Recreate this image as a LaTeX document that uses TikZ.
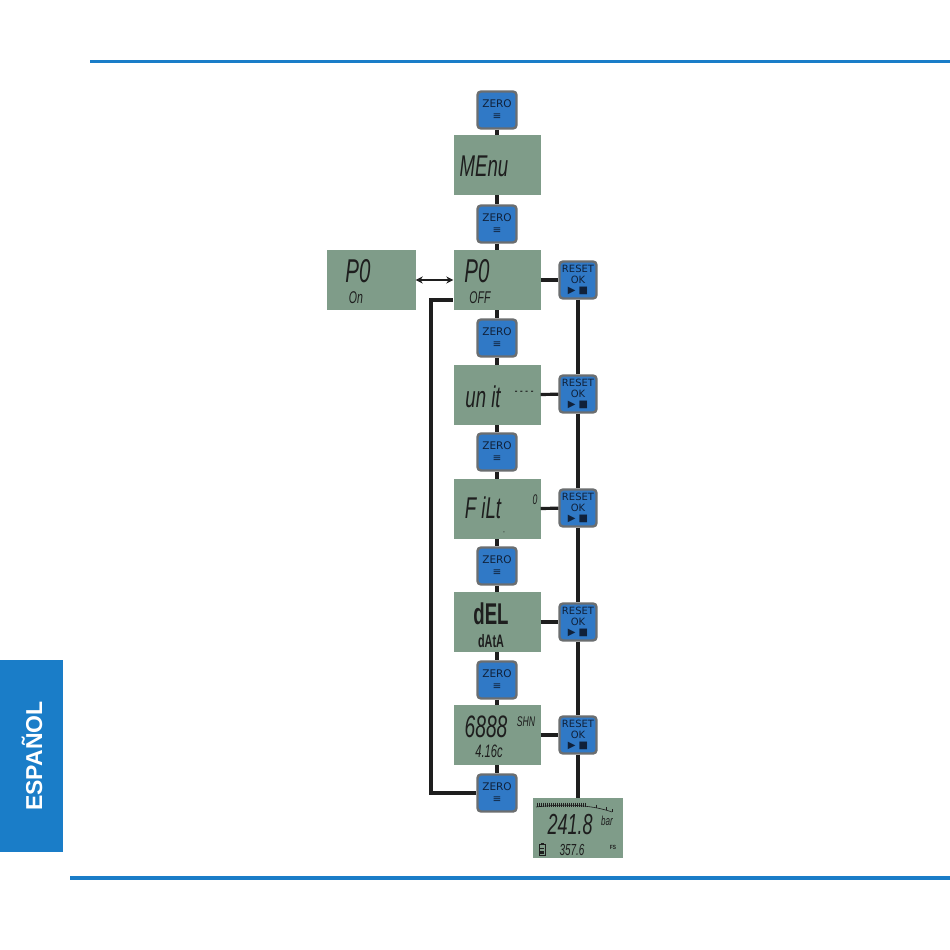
\documentclass[tikz,border=0pt]{standalone}
\usepackage{fontspec}
\setmainfont{Liberation Sans}
\newfontfamily\dvs{DejaVu Sans}
\usetikzlibrary{arrows.meta}
\definecolor{hdrblue}{HTML}{1A7DC8}
\definecolor{btnblue}{HTML}{3079C6}
\definecolor{btngray}{HTML}{6B6E70}
\definecolor{lcdgreen}{HTML}{7F9C89}
\definecolor{ink}{HTML}{1E1E1E}
\definecolor{btntext}{HTML}{10213A}
\newcommand{\lcdtxt}[2]{\scalebox{0.62}[1]{\fontsize{#1}{#1}\selectfont\itshape #2}}
\tikzset{
  zerobtn/.style={rectangle, rounded corners=3.5pt, fill=btnblue, draw=btngray, line width=2.4pt,
    minimum width=39pt, minimum height=37pt, inner sep=0pt, align=center, text=btntext,
    font=\dvs\fontsize{10.5}{11}\selectfont},
  resetbtn/.style={zerobtn, minimum width=37pt, minimum height=37pt,
    font=\dvs\fontsize{10}{10.5}\selectfont},
  lcd/.style={rectangle, fill=lcdgreen, minimum width=87pt, minimum height=60pt, inner sep=0pt},
  lbl/.style={inner sep=0pt, text=ink},
  conn/.style={draw=ink, line width=3.2pt},
}
\begin{document}
\begin{tikzpicture}[x=1pt,y=-1pt]
\path[use as bounding box, fill=white] (0,0) rectangle (950,950);
% header / footer
\fill[hdrblue] (90,60) rectangle (950,63);
\fill[hdrblue] (70,876) rectangle (950,880);
\fill[hdrblue] (0,660) rectangle (63,852);
\node[rotate=90, text=white, font=\bfseries\fontsize{23}{23}\selectfont] (tab) at (32,756) {ESPAÑOL};

% ZERO buttons
\foreach \n/\y in {z1/110,z2/224,z3/338,z4/452,z5/566,z6/680,z7/793}
  \node[zerobtn] (\n) at (497,\y) {ZERO\\[1pt]≡};
% RESET buttons
\foreach \n/\y in {r1/280,r2/394,r3/508,r4/622,r5/735}
  \node[resetbtn] (\n) at (578,\y) {RESET\\OK\\▶ ■};

% LCD displays
\node[lcd] (menu) at (497,165) {};
\node[lcd] (poff) at (497,280) {};
\node[lcd, minimum width=89pt] (pon) at (371,280) {};
\node[lcd] (unit) at (497,395) {};
\node[lcd] (filt) at (497,509) {};
\node[lcd] (del) at (497,622) {};
\node[lcd] (ver) at (497,735) {};
\node[lcd, minimum width=90pt] (live) at (578,828) {};

% LCD texts
\node[lbl] (menut) at (484,166) {\lcdtxt{30}{MEnu}};
\node[lbl] (pofft1) at (477,271) {\lcdtxt{33}{P0}};
\node[lbl] (pofft2) at (480,298) {\lcdtxt{17}{OFF}};
\node[lbl] (pont1) at (358,271) {\lcdtxt{33}{P0}};
\node[lbl] (pont2) at (356,298) {\lcdtxt{17}{On}};
\node[lbl] (unitt) at (483,397) {\lcdtxt{30}{un it}};
\node[lbl] (unitd) at (524,393) {\lcdtxt{14}{- - - -}};
\node[lbl] (filtt) at (483,508) {\lcdtxt{30}{F iLt}};
\node[lbl] (filt0) at (535,500) {\lcdtxt{14}{0}};
\node[lbl] (filtm) at (504,533) {\lcdtxt{8}{-}};
\node[lbl] (delt1) at (491,614) {\scalebox{0.62}[1]{\fontsize{30}{30}\selectfont\bfseries dEL}};
\node[lbl] (delt2) at (491,641) {\scalebox{0.6}[1]{\fontsize{18}{18}\selectfont\bfseries dAtA}};
\node[lbl] (vert1) at (486,727) {\lcdtxt{31}{6888}};
\node[lbl] (vert2) at (526,722) {\lcdtxt{14}{SHN}};
\node[lbl] (vert3) at (489,751) {\lcdtxt{18}{4.16c}};
\node[lbl] (livet1) at (570,825) {\lcdtxt{29}{241.8}};
\node[lbl] (livet2) at (607,821) {\lcdtxt{13}{bar}};
\node[lbl] (livet3) at (572,850) {\lcdtxt{16}{357.6}};
\node[lbl] (livet4) at (613,847) {\scalebox{0.8}[1]{\fontsize{6}{6}\selectfont\bfseries FS}};
% battery icon
\draw[ink, line width=0.6pt] (539,844) rectangle (545,855);
\fill[ink] (540.5,842.5) rectangle (543.5,844);
\fill[ink] (540,848) rectangle (544,849);
\fill[ink] (540,851) rectangle (544,854);
% bar graph scale
\draw[ink, line width=0.6pt] (536,807) .. controls (570,803) and (595,806) .. (612,812);
\foreach \i in {0,...,24} {
  \pgfmathsetmacro{\xx}{537+2*\i}
  \draw[ink, line width=0.6pt] (\xx,802.5) -- (\xx,806.5);
}
\foreach \xx/\yy in {596/807.5,606/810,612/812}
  \draw[ink, line width=0.6pt] (\xx,\yy-3) -- (\xx,\yy);

% vertical chain
\draw[conn] (z1) -- (menu);
\draw[conn] (menu) -- (z2);
\draw[conn] (z2) -- (poff);
\draw[conn] (poff) -- (z3);
\draw[conn] (z3) -- (unit);
\draw[conn] (unit) -- (z4);
\draw[conn] (z4) -- (filt);
\draw[conn] (filt) -- (z5);
\draw[conn] (z5) -- (del);
\draw[conn] (del) -- (z6);
\draw[conn] (z6) -- (ver);
\draw[conn] (ver) -- (z7);
% reset connections
\draw[conn] (poff) -- (r1);
\draw[conn] (unit) -- (r2);
\draw[conn] (filt) -- (r3);
\draw[conn] (del) -- (r4);
\draw[conn] (ver) -- (r5);
\draw[conn] (r1) -- (r2);
\draw[conn] (r2) -- (r3);
\draw[conn] (r3) -- (r4);
\draw[conn] (r4) -- (r5);
\draw[conn] (r5) -- (live);
% P0 on/off toggle
\draw[draw=ink, line width=2.2pt, {Stealth[length=7pt,width=7pt]}-{Stealth[length=7pt,width=7pt]}] (pon.east) -- (poff.west);
% return loop
\coordinate (loop) at (431,300);
\draw[conn] (z7.west) -| (loop) -- (poff.west |- loop);
\end{tikzpicture}
\end{document}
